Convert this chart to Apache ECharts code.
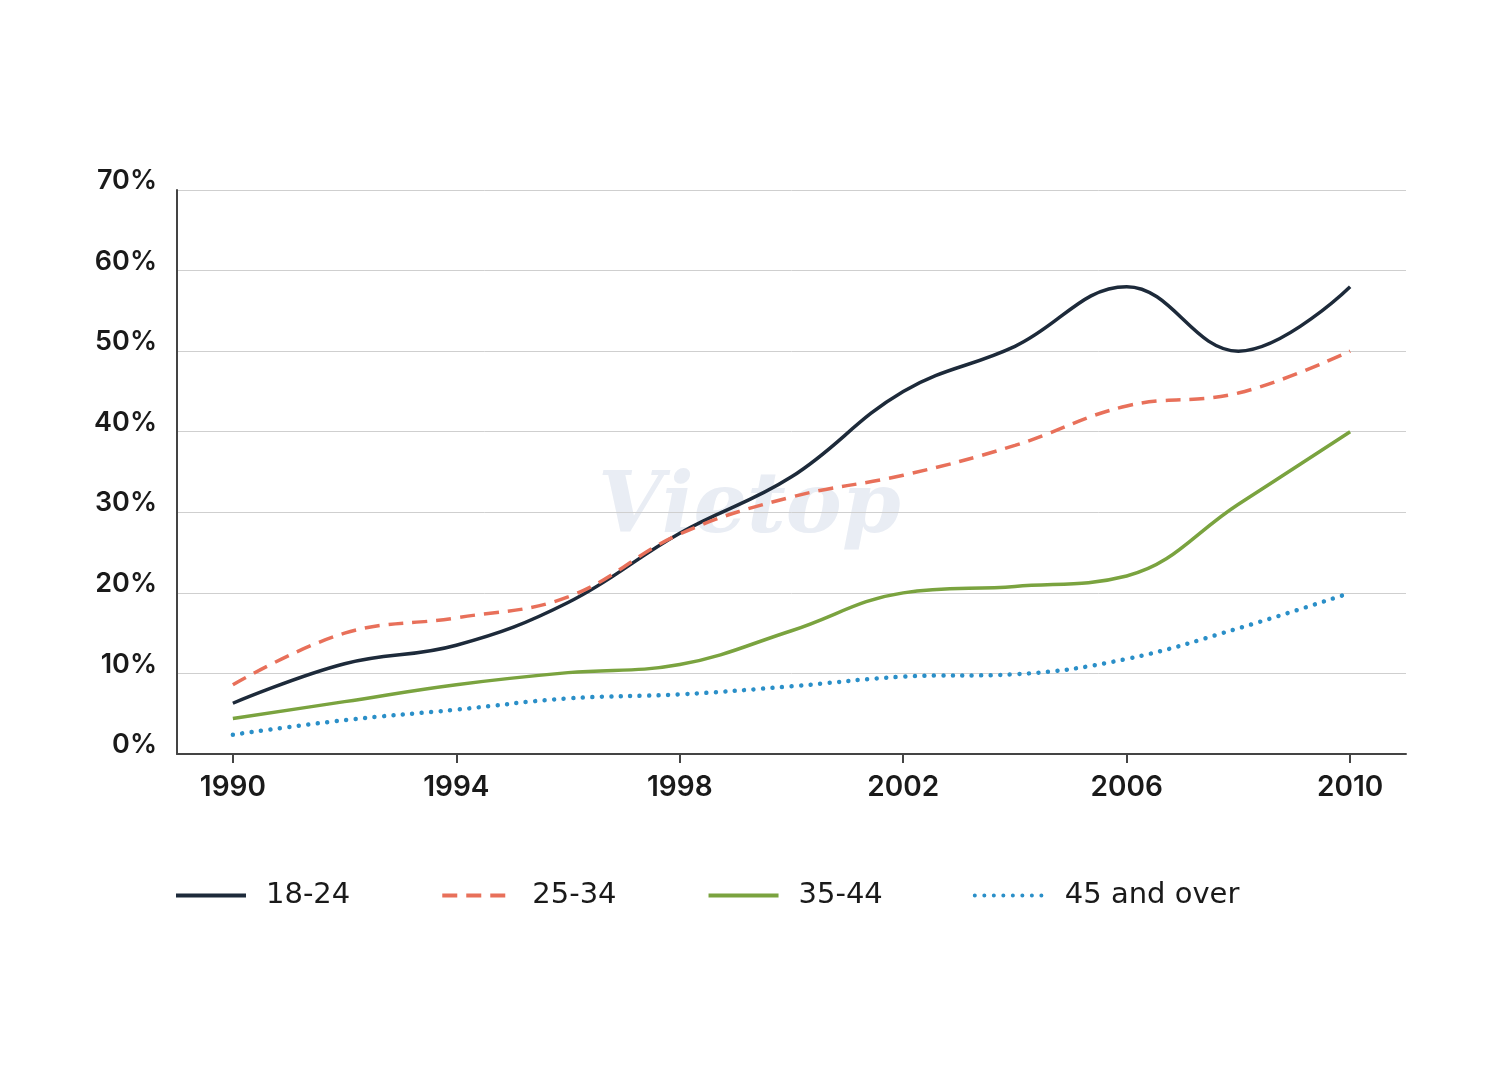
<!DOCTYPE html>
<html>
<head>
<meta charset="utf-8">
<script src="https://cdn.jsdelivr.net/npm/echarts@6/dist/echarts.min.js"></script>
<style>
html,body{margin:0;padding:0;background:#fff;}
#chart{width:1500px;height:1076px;}
</style>
</head>
<body>
<div id="chart"></div>
<script>
const years = [1990, 1992, 1994, 1996, 1998, 2000, 2002, 2004, 2006, 2008, 2010];
const age18_24 = [6.3, 11.2, 13.5, 18.8, 27.4, 34.4, 45.0, 50.6, 58.0, 50.0, 58.0];
const age25_34 = [8.6, 15.0, 16.9, 19.5, 27.3, 31.9, 34.6, 38.3, 43.2, 44.8, 50.0];
const age35_44 = [4.4, 6.5, 8.6, 10.1, 11.1, 15.3, 20.0, 20.8, 22.1, 31.0, 40.0];
const age45plus = [2.4, 4.2, 5.5, 6.9, 7.4, 8.4, 9.6, 9.9, 11.8, 15.6, 20.0];
const xTicks = [1990, 1994, 1998, 2002, 2006, 2010];
const seriesNames = ['18-24', '25-34', '35-44', '45 and over'];

const pair = arr => years.map((y, i) => [y, arr[i]]);
const chart = echarts.init(document.getElementById('chart'));
const fontFamily = 'Inter, "Noto Sans", sans-serif';

function mk(name, arr, color, type, width, cap) {
  return {
    name: name, type: 'line', data: pair(arr), smooth: 0.4,
    symbol: 'none',
    lineStyle: { color: color, width: width, type: type, cap: cap || 'butt' },
    itemStyle: { color: color },
    emphasis: { disabled: true }
  };
}

chart.setOption({
  animation: false,
  backgroundColor: '#ffffff',
  graphic: [{
    type: 'text', left: 598, top: 468, z: 0, silent: true,
    style: { text: 'Vietop', font: 'italic bold 84px "DejaVu Serif", serif', fill: '#e9edf4' }
  }],
  grid: { left: 177, right: 94, top: 190, bottom: 322 },
  xAxis: {
    type: 'value', min: 1989, max: 2011,
    axisLine: { show: true, lineStyle: { color: '#444', width: 2 } },
    axisTick: { show: true, customValues: xTicks, length: 9, lineStyle: { color: '#444', width: 2 } },
    axisLabel: {
      customValues: xTicks, margin: 20, fontSize: 28, fontWeight: 600, color: '#1a1a1a',
      fontFamily: fontFamily, formatter: v => String(v)
    },
    splitLine: { show: false }
  },
  yAxis: {
    type: 'value', min: 0, max: 70, interval: 10,
    axisLine: { show: true, lineStyle: { color: '#444', width: 2 } },
    axisTick: { show: false },
    axisLabel: {
      formatter: '{value}%', margin: 20, fontSize: 27, fontWeight: 600, color: '#1a1a1a',
      fontFamily: fontFamily, verticalAlign: 'bottom', lineHeight: 18
    },
    splitLine: { show: true, lineStyle: { color: '#cfcfcf', width: 1 } }
  },
  legend: {
    left: 169, top: 876, itemWidth: 70, itemHeight: 24, itemGap: 90,
    itemStyle: { opacity: 0 },
    lineStyle: { width: 4 },
    textStyle: { fontSize: 29, color: '#1a1a1a', fontFamily: '"DejaVu Sans", sans-serif', padding: [0, 0, 0, 15] },
    data: seriesNames
  },
  series: [
    mk(seriesNames[0], age18_24, '#1d2a3a', 'solid', 3.5),
    mk(seriesNames[1], age25_34, '#e8705a', [15, 9], 3.5),
    mk(seriesNames[2], age35_44, '#7aa33f', 'solid', 3.5),
    mk(seriesNames[3], age45plus, '#2a8fc8', [0.01, 9.5], 4.5, 'round')
  ]
});
</script>
</body>
</html>
